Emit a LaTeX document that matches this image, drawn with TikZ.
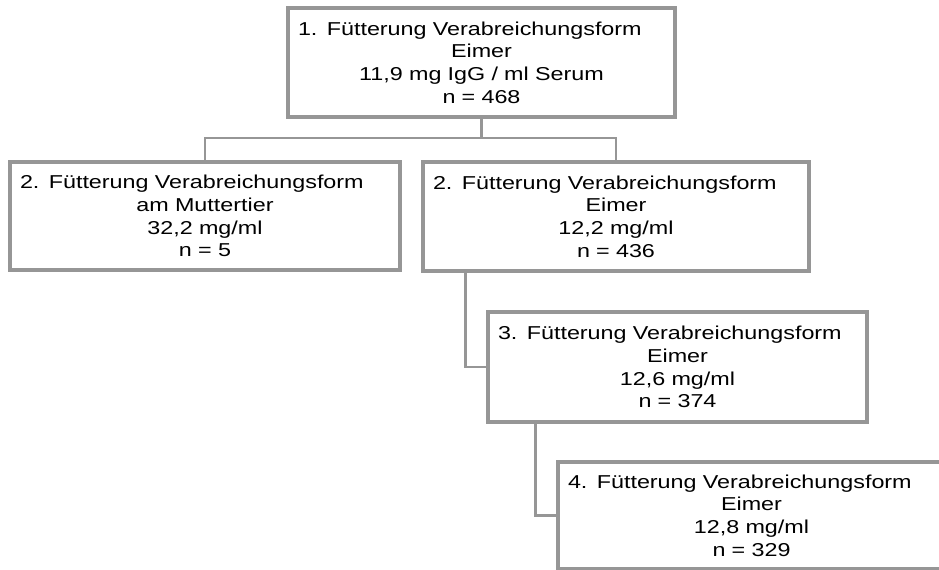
\documentclass[tikz,border=0pt]{standalone}
\usepackage{fontspec}
\setmainfont{Liberation Sans}[FakeStretch=1.25]
\definecolor{linegray}{RGB}{150,150,150}
\begin{document}
\begin{tikzpicture}[x=0.75pt,y=-0.75pt,
  box/.style 2 args={draw=linegray,line width=2.3pt,rectangle,inner sep=0pt,
    minimum width=#1*0.75pt,minimum height=#2*0.75pt,text width=#1*0.75pt-20*0.75pt,
    align=center,font=\fontsize{14}{17}\selectfont,text=black},
  conn/.style={draw=linegray,line width=2.1pt}]
\useasboundingbox (0,0) rectangle (939,570);
\newcommand\firstline[1]{\leavevmode\hbox to\hsize{#1\hfil}}
\node[box={387}{109}] (b1) at (481.5,62.5)
  {\firstline{1. Fütterung Verabreichungsform}\\Eimer\\11,9 mg IgG / ml Serum\\n = 468};
\node[box={390}{108}] (b2l) at (205,216)
  {\firstline{2. Fütterung Verabreichungsform}\\am Muttertier\\32,2 mg/ml\\n = 5};
\node[box={386}{109}] (b2r) at (616,216.5)
  {\firstline{2. Fütterung Verabreichungsform}\\Eimer\\12,2 mg/ml\\n = 436};
\node[box={379}{110}] (b3) at (677.5,367)
  {\firstline{3. Fütterung Verabreichungsform}\\Eimer\\12,6 mg/ml\\n = 374};
\node[box={387}{107}] (b4) at (751.5,515.5)
  {\firstline{4. Fütterung Verabreichungsform}\\Eimer\\12,8 mg/ml\\n = 329};
\coordinate (bar) at (0,138);
\draw[conn] (b1.south) -- (b1.south |- bar);
\draw[conn] (b2l.north) -- (b2l.north |- bar) -- (b2r.north |- bar) -- (b2r.north);
\draw[conn] ([xshift=44*0.75pt]b2r.south west) |- (b3.west);
\draw[conn] ([xshift=49*0.75pt]b3.south west) |- (b4.west);
\end{tikzpicture}
\end{document}
